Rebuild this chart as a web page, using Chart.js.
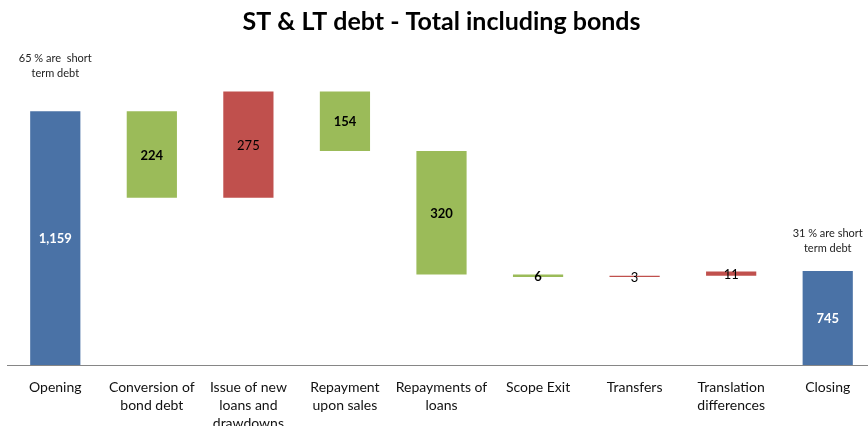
<!DOCTYPE html>
<html>
<head>
<meta charset="utf-8">
<script src="https://cdn.jsdelivr.net/npm/chart.js@4"></script>
<style>
  html, body { margin: 0; padding: 0; background: #fff; overflow: hidden; }
  #wrap { width: 868px; height: 426px; overflow: hidden; }
</style>
</head>
<body>
<div id="wrap"><canvas id="graficoDivida" width="876" height="426" style="width:876px;height:426px"></canvas></div>
<script>
const categorias = [
    'Opening',
    ['Conversion of', 'bond debt'],
    ['Issue of new', 'loans and', 'drawdowns'],
    ['Repayment', 'upon sales'],
    ['Repayments of', 'loans'],
    'Scope Exit',
    'Transfers',
    ['Translation', 'differences'],
    'Closing'
];
const valores = ['1,159', '224', '275', '154', '320', '6', '3', '11', '745'];
const inicio = [0, 935, 935, 1056, 736, 730, 730, 733, 0];
const fim = [1159, 1159, 1210, 1210, 1056, 736, 733, 744, 745];
const tipo = ['total', 'queda', 'alta', 'queda', 'queda', 'queda', 'alta', 'alta', 'total'];
const notas = [['65 % are  short', 'term debt'], null, null, null, null, null, null, null, ['31 % are short', 'term debt']];

const cores = { total: '#4A72A6', queda: '#9BBB59', alta: '#C0504D' };
const fonte = 'Lato, "Open Sans", sans-serif';

// rotulos dentro das barras e notas acima dos totais
const rotulos = {
    id: 'rotulos',
    afterDatasetsDraw(chart) {
        const ctx = chart.ctx;
        const area = chart.chartArea;
        const meta = chart.getDatasetMeta(0);
        const distNota = { 0: 38, 8: 23 };
        ctx.save();
        ctx.textAlign = 'center';
        ctx.textBaseline = 'middle';
        meta.data.forEach((bar, i) => {
            const topo = Math.max(Math.min(bar.y, bar.base), area.top);
            const base = Math.min(Math.max(bar.y, bar.base), area.bottom);
            const t = tipo[i];
            ctx.font = (t === 'alta' ? 'normal' : 'bold') + ' 13px ' + fonte;
            ctx.fillStyle = t === 'total' ? '#ffffff' : '#000000';
            ctx.fillText(valores[i], bar.x, (topo + base) / 2 + 1);
            if (notas[i]) {
                ctx.font = '11px ' + fonte;
                ctx.fillStyle = '#222';
                const y0 = topo - distNota[i];
                ctx.fillText(notas[i][0], bar.x, y0 - 15);
                ctx.fillText(notas[i][1], bar.x, y0);
            }
        });
        ctx.restore();
    }
};

const ctx = document.getElementById('graficoDivida').getContext('2d');
new Chart(ctx, {
    type: 'bar',
    data: {
        labels: categorias,
        datasets: [{
            data: inicio.map((v, i) => [v, fim[i]]),
            backgroundColor: tipo.map(t => cores[t]),
            borderWidth: 0,
            categoryPercentage: 1,
            barPercentage: 0.52
        }]
    },
    options: {
        responsive: false,
        animation: false,
        layout: { padding: { left: 7, right: 0, top: 0, bottom: 0 } },
        plugins: {
            legend: { display: false },
            tooltip: { enabled: false },
            title: {
                display: true,
                text: 'ST & LT debt - Total including bonds',
                color: '#000',
                font: { family: fonte, size: 25, weight: 'bold' },
                padding: { top: 7, bottom: 39 }
            }
        },
        scales: {
            x: {
                grid: { display: false, drawTicks: false },
                border: { display: true, color: '#868686', width: 1 },
                ticks: {
                    color: '#111',
                    font: { family: fonte, size: 14, lineHeight: 1.3 },
                    padding: 13,
                    maxRotation: 0,
                    autoSkip: false
                },
                afterFit(axis) { axis.height = 61; }
            },
            y: {
                display: false,
                min: 502,
                max: 1250
            }
        }
    },
    plugins: [rotulos]
});
</script>
</body>
</html>
